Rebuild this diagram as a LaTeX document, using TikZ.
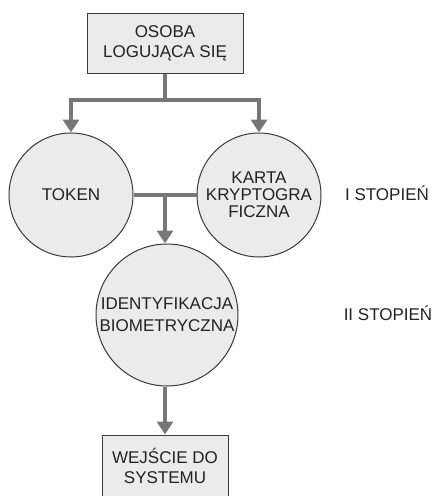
\documentclass[tikz,border=0pt]{standalone}
\usepackage{fontspec}
\setmainfont{Liberation Sans}
\usetikzlibrary{arrows.meta}
\definecolor{fillg}{HTML}{EBEBEB}
\definecolor{edgeg}{HTML}{3A3A3A}
\definecolor{arrg}{HTML}{777777}
\definecolor{txtg}{HTML}{222222}
\tikzset{
  boxnode/.style={draw=edgeg,fill=fillg,line width=1pt,rectangle,inner sep=0pt,align=center,text=txtg},
  circnode/.style={draw=edgeg,fill=fillg,line width=1pt,circle,inner sep=0pt,align=center,text=txtg},
  conn/.style={draw=arrg,line width=4pt},
  arr/.style={conn,-{Triangle[width=16pt,length=13pt]}},
  lbl/.style={text=txtg,inner sep=0pt}
}
\begin{document}
\begin{tikzpicture}[x=1pt,y=-1pt]
\useasboundingbox (0,0) rectangle (433,496);
\node[boxnode,minimum width=156pt,minimum height=60pt,font=\fontsize{17}{20}\selectfont] (top) at (165,43) {OSOBA\\LOGUJĄCA SIĘ};
\node[circnode,minimum size=124pt,font=\fontsize{17}{20}\selectfont] (token) at (71,195) {TOKEN};
\node[circnode,minimum size=124pt,font=\fontsize{17}{17}\selectfont] (karta) at (259,195) {KARTA\\KRYPTOGRA\\FICZNA};
\node[circnode,minimum size=142pt,font=\fontsize{17}{22}\selectfont] (bio) at (167,315) {IDENTYFIKACJA\\BIOMETRYCZNA};
\node[boxnode,minimum width=126pt,minimum height=62pt,font=\fontsize{17}{20}\selectfont] (sys) at (165,466) {WEJŚCIE DO\\SYSTEMU};
\node[lbl,font=\fontsize{17}{20}\selectfont] (l1) at (387,193) {I STOPIEŃ};
\node[lbl,font=\fontsize{17}{20}\selectfont] (l2) at (388,313) {II STOPIEŃ};
\coordinate (j1) at (165,100);
\coordinate (j2) at (165,195);
\draw[conn] (top.south) -- (j1);
\draw[arr] (j1) -| (token.north);
\draw[arr] (j1) -| (karta.north);
\draw[conn] (token.east) -- (karta.west);
\draw[arr] (j2) -- (j2 |- bio.north);
\draw[arr] (sys.north |- bio.south) -- (sys.north);
\end{tikzpicture}
\end{document}
